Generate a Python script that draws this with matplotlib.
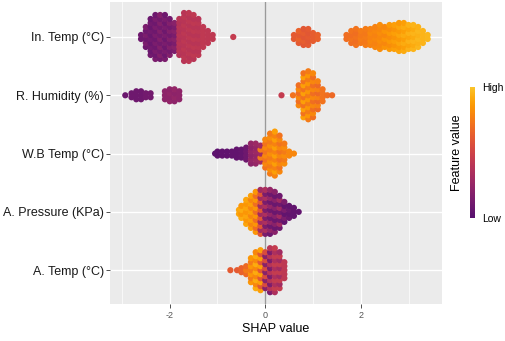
import numpy as np
import matplotlib
matplotlib.use('Agg')
import matplotlib.pyplot as plt
from matplotlib.colors import LinearSegmentedColormap

plt.rcParams['font.family'] = ['Liberation Sans', 'DejaVu Sans']

# features, bottom to top
features = ['A. Temp (°C)', 'A. Pressure (KPa)', 'W.B Temp (°C)',
            'R. Humidity (%)', 'In. Temp (°C)']

# each bin: (shap value, number of points, feature value a, feature value b)
a_temp = [(-0.73, 1, 0.62, 0.62), (-0.59, 1, 0.62, 0.62), (-0.5, 2, 0.65, 0.65),
          (-0.4, 3, 0.68, 0.75), (-0.3, 7, 0.85, 0.75), (-0.2, 10, 0.92, 0.8),
          (-0.1, 11, 0.88, 0.6), (0.0, 10, 0.2, 0.55), (0.1, 12, 0.15, 0.4),
          (0.2, 12, 0.35, 0.45), (0.3, 10, 0.45, 0.3), (0.4, 5, 0.42, 0.42)]

a_pressure = [(-0.55, 2, 0.9, 0.9), (-0.5, 4, 0.92, 0.85), (-0.4, 7, 0.9, 0.85),
              (-0.3, 9, 0.88, 0.8), (-0.2, 11, 0.85, 0.7), (-0.1, 12, 0.6, 0.3),
              (0.0, 12, 0.15, 0.35), (0.1, 12, 0.1, 0.25), (0.2, 11, 0.2, 0.08),
              (0.3, 9, 0.1, 0.3), (0.4, 6, 0.05, 0.15), (0.5, 4, 0.08, 0.05),
              (0.6, 3, 0.05, 0.05), (0.7, 1, 0.05, 0.05)]

wb_temp = [(-1.05, 1, 0.03, 0.03), (-1.0, 2, 0.03, 0.03), (-0.9, 2, 0.04, 0.04),
           (-0.8, 2, 0.04, 0.04), (-0.7, 2, 0.05, 0.05), (-0.6, 3, 0.05, 0.05),
           (-0.5, 3, 0.06, 0.06), (-0.4, 4, 0.1, 0.1), (-0.3, 6, 0.22, 0.25),
           (-0.2, 6, 0.25, 0.28), (-0.1, 5, 0.3, 0.75), (0.0, 8, 0.72, 0.8),
           (0.1, 11, 0.75, 0.82), (0.2, 12, 0.78, 0.88), (0.3, 10, 0.8, 0.72),
           (0.4, 6, 0.82, 0.75), (0.5, 2, 0.8, 0.8), (0.6, 1, 0.8, 0.8)]

r_humidity = [(-2.93, 1, 0.08, 0.08), (-2.8, 2, 0.1, 0.1), (-2.7, 3, 0.1, 0.1),
              (-2.6, 3, 0.1, 0.1), (-2.5, 2, 0.12, 0.12), (-2.4, 2, 0.12, 0.12),
              (-2.1, 3, 0.22, 0.22), (-2.0, 4, 0.24, 0.22), (-1.9, 4, 0.22, 0.25),
              (-1.8, 3, 0.23, 0.23), (0.34, 1, 0.45, 0.45), (0.58, 1, 0.72, 0.72),
              (0.7, 6, 0.8, 0.7), (0.8, 12, 0.88, 0.72), (0.9, 13, 0.75, 0.85),
              (1.0, 12, 0.7, 0.8), (1.1, 8, 0.68, 0.78), (1.2, 4, 0.72, 0.72),
              (1.3, 1, 0.7, 0.7), (1.4, 1, 0.68, 0.68)]

in_temp = [(-2.6, 2, 0.1, 0.1), (-2.5, 6, 0.1, 0.15), (-2.4, 10, 0.12, 0.08),
           (-2.3, 12, 0.15, 0.1), (-2.2, 12, 0.12, 0.18), (-2.1, 12, 0.15, 0.1),
           (-2.0, 10, 0.18, 0.12), (-1.9, 8, 0.15, 0.2), (-1.8, 10, 0.38, 0.4),
           (-1.7, 13, 0.4, 0.42), (-1.6, 13, 0.42, 0.4), (-1.5, 12, 0.4, 0.43),
           (-1.4, 10, 0.42, 0.4), (-1.3, 6, 0.43, 0.43), (-1.2, 4, 0.42, 0.42),
           (-1.1, 2, 0.43, 0.43), (-0.67, 1, 0.45, 0.45),
           (0.6, 2, 0.62, 0.62), (0.7, 4, 0.62, 0.65), (0.8, 5, 0.6, 0.63),
           (0.9, 5, 0.62, 0.6), (1.0, 3, 0.63, 0.63), (1.1, 2, 0.65, 0.65),
           (1.7, 2, 0.7, 0.7), (1.8, 4, 0.7, 0.72), (1.9, 5, 0.72, 0.7),
           (2.0, 4, 0.74, 0.76), (2.1, 5, 0.76, 0.74), (2.2, 5, 0.78, 0.8),
           (2.3, 6, 0.8, 0.78), (2.4, 7, 0.82, 0.8), (2.5, 6, 0.84, 0.8),
           (2.6, 7, 0.86, 0.82), (2.7, 7, 0.88, 0.84), (2.8, 8, 0.9, 0.86),
           (2.9, 8, 0.92, 0.88), (3.0, 7, 0.94, 0.9), (3.1, 7, 0.95, 0.92),
           (3.2, 6, 0.96, 0.94), (3.3, 4, 0.95, 0.95), (3.4, 2, 0.96, 0.96)]

rows = [a_temp, a_pressure, wb_temp, r_humidity, in_temp]

# inferno, trimmed like viridis option B with begin/end
inf = plt.get_cmap('inferno')
cmap = LinearSegmentedColormap.from_list('trim', inf(np.linspace(0.25, 0.86, 64)))

fig = plt.figure(figsize=(5.05, 3.41), dpi=100)
ax = fig.add_axes([110/505, 37/341, 332/505, 302/341])
ax.set_facecolor('#EBEBEB')
ax.set_xlim(-3.25, 3.7)
ax.set_ylim(0.42, 5.6)

# vertical step between stacked dots, 4 px in data units
step = 4 * (5.6 - 0.42) / 302

xs, ys, cs = [], [], []
for r, row in enumerate(rows):
    for shap, n, ca, cb in row:
        for i in range(n):
            xs.append(shap)
            ys.append(r + 1 + (i - (n - 1) / 2) * step)
            cs.append(ca if i % 2 == 0 else cb)

# grid
for v in [-3, -1, 1, 3]:
    ax.axvline(v, color='white', lw=0.5, zorder=0)
for v in [-2, 0, 2]:
    ax.axvline(v, color='white', lw=1.0, zorder=0)
for v in range(1, 6):
    ax.axhline(v, color='white', lw=1.0, zorder=0)
ax.axvline(0, color='#9A9A9A', lw=1.0, zorder=1)

sc = ax.scatter(xs, ys, c=cs, cmap=cmap, vmin=0, vmax=1, s=20, lw=0, zorder=2)

for s in ax.spines.values():
    s.set_visible(False)
ax.set_xticks([-2, 0, 2])
ax.set_xticklabels(['-2', '0', '2'], fontsize=6.5, color='#555555')
ax.set_yticks(range(1, 6))
ax.set_yticklabels(features, fontsize=9, color='#1A1A1A')
ax.tick_params(axis='both', length=3, width=0.6, color='#333333', pad=2)
ax.tick_params(axis='y', pad=1.5)
ax.set_xlabel('SHAP value', fontsize=9, labelpad=2)

# colorbar
cax = fig.add_axes([470/505, 123/341, 5/505, 131/341])
cb = fig.colorbar(sc, cax=cax)
cb.outline.set_visible(False)
cb.set_ticks([])
fig.text(482/505, 1 - 88/341, 'High', fontsize=7.5, va='center', ha='left')
fig.text(482/505, 1 - 219/341, 'Low', fontsize=7.5, va='center', ha='left')
fig.text(457/505, 1 - 153/341, 'Feature value', fontsize=9, rotation=90,
         va='center', ha='center')

fig.savefig('out.png', dpi=100)
